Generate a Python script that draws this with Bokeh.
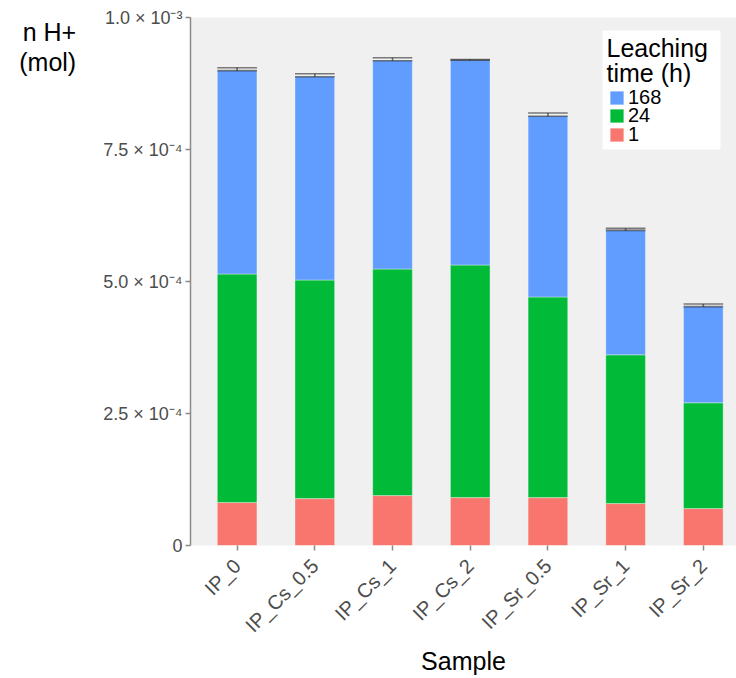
import math
import numpy as np
from bokeh.plotting import figure
from bokeh.models import (Range1d, FixedTicker, Legend, LegendItem, Label,
                          BoxAnnotation, ColumnDataSource)
from bokeh.embed import file_html
from bokeh.resources import INLINE

# ---------------- data ----------------
samples = ["IP_0", "IP_Cs_0.5", "IP_Cs_1", "IP_Cs_2", "IP_Sr_0.5", "IP_Sr_1", "IP_Sr_2"]
leach_1h = [8.13e-5, 8.88e-5, 9.45e-5, 9.07e-5, 9.07e-5, 7.94e-5, 6.99e-5]
leach_24h = [4.329e-4, 4.140e-4, 4.291e-4, 4.405e-4, 3.800e-4, 2.817e-4, 2.004e-4]
leach_168h = [3.851e-4, 3.851e-4, 3.945e-4, 3.878e-4, 3.422e-4, 2.357e-4, 1.821e-4]
err_low = [8.993e-4, 8.879e-4, 9.181e-4, 9.190e-4, 8.129e-4, 5.968e-4, 4.524e-4]
err_high = [9.049e-4, 8.936e-4, 9.238e-4, 9.205e-4, 8.191e-4, 6.006e-4, 4.575e-4]
legend_labels = ["168", "24", "1"]
y_ticks = [0.0, 2.5e-4, 5.0e-4, 7.5e-4, 1.0e-3]
y_tick_labels = ["0", "2.5 × 10⁻⁴", "5.0 × 10⁻⁴", "7.5 × 10⁻⁴", "1.0 × 10⁻³"]

# ---------------- derived ----------------
x = np.arange(1, len(samples) + 1, dtype=float)
bar_w = 0.51
b1 = np.array(leach_1h)
b24 = b1 + np.array(leach_24h)
b168 = b24 + np.array(leach_168h)
src = ColumnDataSource(dict(x=x, zero=np.zeros_like(x), t1=b1, t24=b24, t168=b168,
                            lo=np.array(err_low), hi=np.array(err_high),
                            xl=x - bar_w / 2, xr=x + bar_w / 2))

FONT = "Liberation Sans"
RED, GREEN, BLUE = "#F8766D", "#00BA38", "#619CFF"

p = figure(width=736, height=678, output_backend="svg", toolbar_location=None,
           x_range=Range1d(0.4, 7.427), y_range=Range1d(0, 1e-3),
           min_border_left=190, min_border_right=0, min_border_top=17,
           min_border_bottom=132)
p.background_fill_color = "#f0f0f0"
p.border_fill_color = "white"
p.outline_line_color = None
p.xgrid.grid_line_color = None
p.ygrid.grid_line_color = None

edge = dict(line_color="white", line_alpha=0.35, line_width=1)
r1 = p.vbar(x="x", width=bar_w, bottom="zero", top="t1", source=src, fill_color=RED, **edge)
r24 = p.vbar(x="x", width=bar_w, bottom="t1", top="t24", source=src, fill_color=GREEN, **edge)
r168 = p.vbar(x="x", width=bar_w, bottom="t24", top="t168", source=src, fill_color=BLUE, **edge)

eb = dict(line_color="black", line_alpha=0.5, line_width=1.6)
p.segment(x0="xl", x1="xr", y0="hi", y1="hi", source=src, **eb)
p.segment(x0="xl", x1="xr", y0="lo", y1="lo", source=src, **eb)
p.segment(x0="x", x1="x", y0="lo", y1="hi", source=src, **eb)

# axes
p.yaxis.ticker = FixedTicker(ticks=y_ticks)
p.yaxis.major_label_overrides = {v: s for v, s in zip(y_ticks, y_tick_labels)}
p.yaxis.axis_line_color = "#8a8a8a"
p.yaxis.axis_line_width = 1.5
p.yaxis.major_tick_line_color = "#8a8a8a"
p.yaxis.major_tick_line_width = 1.5
p.yaxis.major_tick_out = 5
p.yaxis.major_tick_in = 0
p.yaxis.minor_tick_line_color = None
p.yaxis.major_label_text_font = FONT
p.yaxis.major_label_text_font_size = "18px"
p.yaxis.major_label_text_color = "#4d4d4d"
p.yaxis.major_label_standoff = 3
# two leading empty lines push the horizontal title below the top of the axis
p.yaxis.axis_label = "\n\nn H+\n(mol)"
p.yaxis.axis_label_orientation = "horizontal"
p.yaxis.axis_label_text_font = FONT
p.yaxis.axis_label_text_font_size = "25px"
p.yaxis.axis_label_text_font_style = "normal"
p.yaxis.axis_label_text_color = "black"
p.yaxis.axis_label_text_line_height = 1.05
p.yaxis.axis_label_standoff = 24
try:
    p.yaxis.axis_label_align = "end"
except Exception:
    pass

p.xaxis.ticker = FixedTicker(ticks=list(x))
p.xaxis.major_label_overrides = {float(v): s for v, s in zip(x, samples)}
p.xaxis.axis_line_color = None
p.xaxis.major_tick_line_color = "#8a8a8a"
p.xaxis.major_tick_line_width = 1.5
p.xaxis.major_tick_out = 5
p.xaxis.major_tick_in = 0
p.xaxis.minor_tick_line_color = None
p.xaxis.major_label_orientation = math.pi / 4
p.xaxis.major_label_text_font = FONT
p.xaxis.major_label_text_font_size = "20px"
p.xaxis.major_label_text_color = "#4d4d4d"
p.xaxis.major_label_standoff = 12
p.xaxis.axis_label = "Sample"
p.xaxis.axis_label_text_font = FONT
p.xaxis.axis_label_text_font_size = "25px"
p.xaxis.axis_label_text_font_style = "normal"
p.xaxis.axis_label_text_color = "black"
p.xaxis.axis_label_standoff = 0

# legend
lab = dict(x_units="screen", y_units="screen", text_font=FONT, text_font_size="25px",
           text_color="black", text_baseline="alphabetic")
p.add_layout(BoxAnnotation(left=412, right=530, top=515, bottom=396,
                           left_units="screen", right_units="screen",
                           top_units="screen", bottom_units="screen",
                           fill_color="white", fill_alpha=1.0, line_color=None))
p.add_layout(Label(x=416, y=498, text="Leaching", **lab))
p.add_layout(Label(x=416, y=472.5, text="time (h)", **lab))
swatch_tops = [89.5, 108, 126.5]   # canvas px of each key's top edge
for lbl, rend, top in zip(legend_labels, [r168, r24, r1], swatch_tops):
    lg = Legend(items=[LegendItem(label=lbl, renderers=[rend])],
                location=(418, 546 - (top + 20)), glyph_width=17, glyph_height=17,
                label_text_font=FONT, label_text_font_size="20px",
                label_text_color="black", label_standoff=3, spacing=0,
                padding=0, margin=0, background_fill_alpha=0,
                border_line_color=None)
    p.add_layout(lg)

open("out.html", "w").write(file_html(p, INLINE))
